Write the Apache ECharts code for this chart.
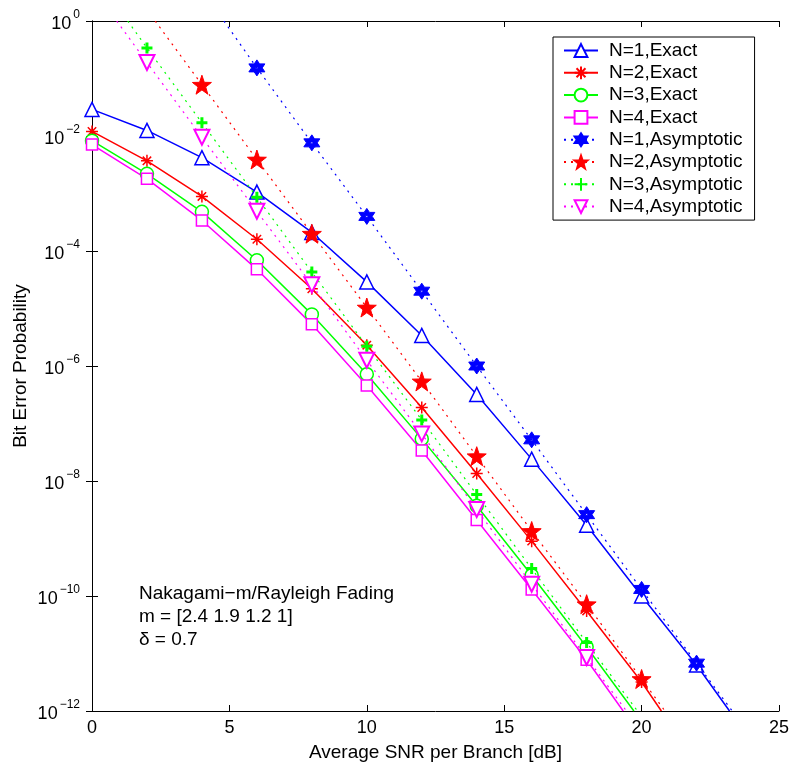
<html>
<head>
	<meta charset="utf-8">
	<title>Bit Error Probability</title>
	<script src="https://cdn.jsdelivr.net/npm/echarts@6/dist/echarts.min.js"></script>
	<style>
		body { margin: 0; background: #fff; }
	</style>
</head>
<body>
<div id="main" style="width: 793px;height:768px;"></div>

<script type="text/javascript">
    // 数据
    var snrExact = [0, 2, 4, 6, 8, 10, 12, 14, 16, 18, 20, 22];
    var exact1 = [2.9e-2, 1.25e-2, 4.2e-3, 1.06e-3, 2.1e-4, 2.9e-5, 3.4e-6, 3.2e-7, 2.4e-8, 1.7e-9, 1.0e-10, 6.3e-12];
    var exact2 = [1.2e-2, 3.7e-3, 8.9e-4, 1.6e-4, 2.2e-5, 2.3e-6, 1.9e-7, 1.35e-8, 9e-10, 5.5e-11, 3.2e-12];
    var exact3 = [8.3e-3, 2.2e-3, 4.8e-4, 6.9e-5, 7.9e-6, 7.2e-7, 5.4e-8, 3.7e-9, 2.3e-10, 1.3e-11];
    var exact4 = [7.1e-3, 1.8e-3, 3.4e-4, 4.8e-5, 5.3e-6, 4.6e-7, 3.4e-8, 2.1e-9, 1.3e-10, 7.8e-12];

    var snrAsym1 = [6, 8, 10, 12, 14, 16, 18, 20, 22];
    var snrAsym2 = [4, 6, 8, 10, 12, 14, 16, 18, 20];
    var snrAsym34 = [2, 4, 6, 8, 10, 12, 14, 16, 18];
    var asym1 = [0.153, 7.6e-3, 4.0e-4, 2.0e-5, 1.0e-6, 5.2e-8, 2.6e-9, 1.3e-10, 6.8e-12];
    var asym2 = [7.8e-2, 3.9e-3, 2.0e-4, 1.04e-5, 5.4e-7, 2.7e-8, 1.35e-9, 7.2e-11, 3.6e-12];
    var asym3 = [0.34, 1.7e-2, 8.6e-4, 4.3e-5, 2.2e-6, 1.15e-7, 5.8e-9, 3.0e-10, 1.55e-11];
    var asym4 = [0.19, 9.5e-3, 4.9e-4, 2.6e-5, 1.26e-6, 6.6e-8, 3.2e-9, 1.6e-10, 8.5e-12];

    // 曲线在坐标框上的起止点 [x, y]
    var exactEnds = [[23.2, 1e-12], [20.72, 1e-12], [19.72, 1e-12], [19.33, 1e-12]];
    var asymStarts = [[4.8, 1], [2.3, 1], [1.3, 1], [0.9, 1]];
    var asymEnds = [[23.3, 1e-12], [20.85, 1e-12], [19.85, 1e-12], [19.45, 1e-12]];

    var names = ['N=1,Exact', 'N=2,Exact', 'N=3,Exact', 'N=4,Exact',
        'N=1,Asymptotic', 'N=2,Asymptotic', 'N=3,Asymptotic', 'N=4,Asymptotic'];
    var colors = ['#0000ff', '#ff0000', '#00ff00', '#ff00ff'];

    var asterisk = 'path://M0,-10L0,10M-10,0L10,0M-7,-7L7,7M-7,7L7,-7';
    var plus = 'path://M0,-10L0,10M-10,0L10,0';
    var downTri = 'path://M-10,-8.7L10,-8.7L0,8.7Z';
    var star5 = 'path://M0,-10L2.35,-3.24L9.51,-3.09L3.8,1.24L5.88,8.09L0,4L-5.88,8.09L-3.8,1.24L-9.51,-3.09L-2.35,-3.24Z';
    // 六角星，中间留一个小白点
    var hexagram = 'path://M0,-10L2.89,-5L8.66,-5L5.77,0L8.66,5L2.89,5L0,10L-2.89,5L-8.66,5L-5.77,0L-8.66,-5L-2.89,-5Z' +
        'M-1.2,-1.2L-1.2,1.2L1.2,1.2L1.2,-1.2Z';

    function pairs(xs, ys, start, end) {
        var d = [];
        if (start) d.push({value: start, symbol: 'none'});
        for (var i = 0; i < xs.length; i++) d.push([xs[i], ys[i]]);
        if (end) d.push({value: end, symbol: 'none'});
        return d;
    }

    var exactSym = [
        {symbol: 'triangle', size: 14, fill: '#fff'},
        {symbol: asterisk, size: 12, fill: 'none'},
        {symbol: 'circle', size: 13, fill: '#fff'},
        {symbol: 'rect', size: 11, fill: '#fff'}
    ];
    var asymSym = [
        {symbol: hexagram, size: 16, fill: colors[0], bw: 1},
        {symbol: star5, size: 19, fill: colors[1], bw: 1},
        {symbol: plus, size: 11, fill: 'none', bw: 3},
        {symbol: downTri, size: 15, fill: '#fff', bw: 2}
    ];

    var exactData = [exact1, exact2, exact3, exact4];
    var asymData = [asym1, asym2, asym3, asym4];
    var asymX = [snrAsym1, snrAsym2, snrAsym34, snrAsym34];

    var series = [];
    for (var k = 0; k < 4; k++) {
        series.push({
            name: names[k],
            type: 'line',
            data: pairs(snrExact.slice(0, exactData[k].length), exactData[k], null, exactEnds[k]),
            symbol: exactSym[k].symbol,
            symbolSize: exactSym[k].size,
            showAllSymbol: true,
            clip: true,
            lineStyle: {color: colors[k], width: 1.5},
            itemStyle: {color: exactSym[k].fill, borderColor: colors[k], borderWidth: 1.5},
            z: 3
        });
    }
    for (var k = 0; k < 4; k++) {
        series.push({
            name: names[k + 4],
            type: 'line',
            data: pairs(asymX[k], asymData[k], asymStarts[k], asymEnds[k]),
            symbol: asymSym[k].symbol,
            symbolSize: asymSym[k].size,
            showAllSymbol: true,
            clip: true,
            lineStyle: {color: colors[k], width: 1.2, type: [2, 5]},
            itemStyle: {color: asymSym[k].fill, borderColor: colors[k], borderWidth: asymSym[k].bw},
            z: 4
        });
    }

    var font = 'Liberation Sans';
    var myChart = echarts.init(document.getElementById('main'));
    myChart.setOption({
        animation: false,
        backgroundColor: '#fff',
        textStyle: {fontFamily: font},
        grid: {left: 92, right: 14, top: 21, bottom: 57, outerBoundsMode: 'none'},
        legend: {
            data: names,
            orient: 'vertical',
            left: 553,
            top: 37,
            padding: [4, 12, 4, 10],
            itemGap: 3.3,
            itemWidth: 34,
            itemHeight: 16,
            borderColor: '#000',
            borderWidth: 1,
            backgroundColor: '#fff',
            textStyle: {fontSize: 19, color: '#000', fontFamily: font, padding: [0, 0, 0, 6]}
        },
        xAxis: [{
            type: 'value',
            min: 0, max: 25, interval: 5,
            name: 'Average SNR per Branch [dB]',
            nameLocation: 'middle',
            nameGap: 32,
            nameMoveOverlap: false,
            nameTextStyle: {fontSize: 19, color: '#000'},
            axisLine: {lineStyle: {color: '#000', width: 1}},
            axisTick: {inside: true, length: 6, lineStyle: {color: '#000'}},
            axisLabel: {fontSize: 18, color: '#000', margin: 8},
            splitLine: {show: false}
        }, {
            type: 'value',
            position: 'top',
            min: 0, max: 25, interval: 5,
            axisLine: {show: true, lineStyle: {color: '#000', width: 1}},
            axisTick: {inside: true, length: 6, lineStyle: {color: '#000'}},
            axisLabel: {show: false},
            splitLine: {show: false}
        }],
        yAxis: [{
            type: 'log',
            logBase: 10,
            min: 1e-12, max: 1,
            interval: 2,
            name: 'Bit Error Probability',
            nameLocation: 'middle',
            nameGap: 62,
            nameMoveOverlap: false,
            nameTextStyle: {fontSize: 19, color: '#000'},
            axisLine: {show: true, lineStyle: {color: '#000', width: 1}},
            axisTick: {inside: true, length: 6, lineStyle: {color: '#000'}},
            axisLabel: {
                margin: 12,
                formatter: function (v) {
                    var e = Math.round(Math.log10(v));
                    return '{b|10}{s|' + (e < 0 ? '\u2212' + (-e) : e) + '}';
                },
                rich: {
                    b: {fontSize: 18, color: '#000', fontFamily: font, padding: [6, 0, 0, 0]},
                    s: {fontSize: 12, color: '#000', fontFamily: font, padding: [0, 0, 12, 2]}
                }
            },
            splitLine: {show: false}
        }, {
            type: 'log',
            logBase: 10,
            position: 'right',
            min: 1e-12, max: 1,
            interval: 2,
            axisLine: {show: true, lineStyle: {color: '#000', width: 1}},
            axisTick: {inside: true, length: 6, lineStyle: {color: '#000'}},
            axisLabel: {show: false},
            splitLine: {show: false}
        }],
        graphic: [{
            type: 'text',
            left: 139,
            top: 582,
            style: {
                text: 'Nakagami\u2212m/Rayleigh Fading\nm = [2.4 1.9 1.2 1]\n\u03b4 = 0.7',
                font: '19px "Liberation Sans"',
                lineHeight: 23,
                fill: '#000'
            }
        }],
        series: series
    });
</script>
</body>
</html>
